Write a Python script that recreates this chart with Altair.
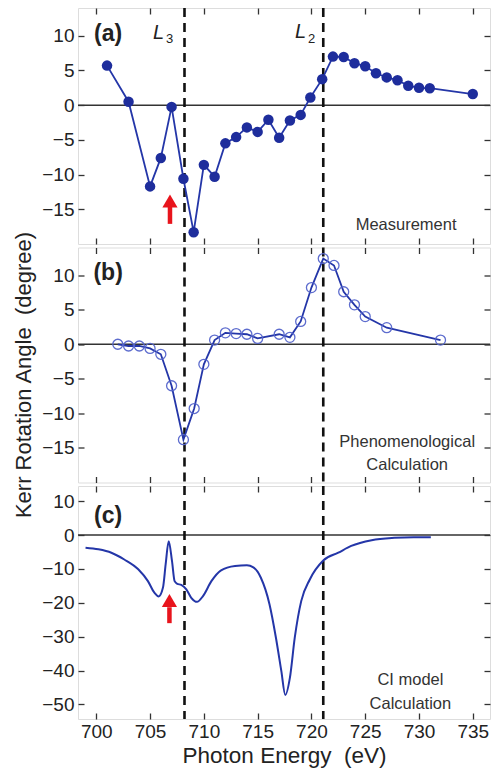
import altair as alt
import pandas as pd

# ---------------- data ----------------
a_energy = [701.0, 703.0, 705.0, 706.0, 707.0, 708.1, 709.05, 710.0, 711.0, 712.0,
            713.0, 714.0, 715.0, 716.0, 717.0, 718.0, 719.0, 719.9, 721.0, 722.0,
            723.0, 724.0, 725.0, 726.0, 727.0, 728.0, 729.0, 730.0, 731.0, 735.0]
a_kerr = [5.7, 0.5, -11.7, -7.6, -0.25, -10.6, -18.3, -8.6, -10.3, -5.5,
          -4.6, -3.2, -3.85, -2.1, -4.7, -2.2, -1.4, 1.1, 3.75, 7.0,
          6.95, 6.05, 5.6, 4.6, 4.0, 3.6, 2.8, 2.5, 2.45, 1.6]

b_energy = [702, 703, 704, 705, 706, 707, 708.1, 709.1, 710, 711,
            712, 713, 714, 715, 717, 718, 719, 720, 721.1, 722.1,
            723, 724, 725, 727, 732]
b_kerr = [0, -0.25, -0.25, -0.6, -1.45, -6.0, -13.8, -9.3, -2.9, 0.6,
          1.65, 1.55, 1.45, 0.85, 1.45, 1.0, 3.3, 8.2, 12.4, 11.4,
          7.6, 5.7, 4.0, 2.4, 0.6]

c_energy = [699.0, 700.2, 701.4, 702.6, 703.9, 704.8, 705.4, 705.8, 706.2, 706.45,
            706.73, 707.04, 707.28, 707.53, 707.9, 708.37, 708.83, 709.36, 709.92, 710.7,
            711.6, 712.9, 714.0, 714.6, 715.3, 716.1, 716.7, 717.2, 717.57, 718.0,
            718.45, 719.05, 719.85, 721.1, 722.5, 723.7, 725.6, 727.7, 729.5, 731.1]
c_kerr = [-3.7, -4.2, -5.2, -7.2, -10.1, -13.6, -17.0, -18.1, -15.5, -8.6,
          -1.8, -7.7, -13.6, -14.4, -14.7, -16.0, -18.5, -19.7, -18.0, -13.6,
          -10.4, -9.1, -8.9, -9.5, -12.6, -20.4, -30.3, -40.1, -47.2, -42.1,
          -30.3, -19.5, -13.1, -7.5, -5.2, -3.2, -1.5, -0.8, -0.6, -0.6]

edge_energies = [708.2, 721.1]          # L3, L2 edges (dashed lines)
x_ticks = [700, 705, 710, 715, 720, 725, 730, 735]
ab_ticks = [-15, -10, -5, 0, 5, 10]
c_ticks = [-50, -40, -30, -20, -10, 0, 10]
x_domain = [698.3, 736.6]
ab_domain = [-20, 14]
c_domain = [-54.3, 14.5]

# annotations (data coordinates)
panel_letters = ["(a)", "(b)", "(c)"]
letter_pos = [(701.1, 9.3), (701.1, 9.3), (701.1, 3.6)]
edge_L = [(705.27, 9.6), (718.47, 9.7)]
edge_sub = [("3", 706.48, 9.0), ("2", 719.68, 9.0)]
a_note = [("Measurement", 728.8, -18.0)]
b_note = [("Phenomenological", 728.9, -14.8), ("Calculation", 728.9, -18.2)]
c_note = [("CI model", 729.2, -44.3), ("Calculation", 729.2, -51.2)]
arrow_a = dict(x=706.85, head=-13.8, top=-14.6, base=-17.1)
arrow_c = dict(x=706.8, head=-19.3, top=-21.3, base=-26.0)

FONT = "Liberation Sans"
BLUE = "#2436a8"
DOT = "#1e2d9c"
TXT = "#222222"
NB = "\u00a0"

xs = alt.Scale(domain=x_domain, nice=False, zero=False)


def xaxis_bottom(labels, title):
    kw = dict(orient="bottom", values=x_ticks, labels=labels, offset=-6, tickSize=6,
              tickColor="#333", tickWidth=1.3, domain=False, grid=False,
              labelFont=FONT, labelFontSize=19, labelColor=TXT, labelPadding=3,
              labelFlush=False)
    if title:
        kw.update(title=title, titleFont=FONT, titleFontSize=22.5, titleFontWeight="normal",
                  titleColor=TXT, titlePadding=3)
    else:
        kw.update(title=None)
    return alt.Axis(**kw)


def xaxis_top():
    return alt.Axis(orient="top", values=x_ticks, labels=False, offset=-6, tickSize=6,
                    tickColor="#333", tickWidth=1.3, domain=False, grid=False, title=None)


def yaxis_left(ticks, title):
    kw = dict(orient="left", values=ticks, offset=-6, tickSize=6, tickColor="#333",
              tickWidth=1.3, domain=False, grid=False, labelFont=FONT, labelFontSize=19,
              labelColor=TXT, labelPadding=4, labelFlush=False)
    if title:
        kw.update(title=title, titleFont=FONT, titleFontSize=22, titleFontWeight="normal",
                  titleColor=TXT, titleX=-61, titleY=127, titleAngle=-90,
                  titleAlign="center", titleBaseline="middle")
    else:
        kw.update(title=None)
    return alt.Axis(**kw)


def yaxis_right(ticks):
    return alt.Axis(orient="right", values=ticks, labels=False, offset=-6, tickSize=6,
                    tickColor="#333", tickWidth=1.3, domain=False, grid=False, title=None)


def panel(energy, kerr, ydomain, yticks, kind, letter_i, notes, arrow, xlabels, xtitle, ytitle, height):
    df = pd.DataFrame({"energy": energy, "kerr": kerr})
    ys = alt.Scale(domain=ydomain, nice=False, zero=False)
    base = alt.Chart(df)
    layers = []
    # zero line
    layers.append(alt.Chart(pd.DataFrame({"z": [0]})).mark_rule(color="#333", strokeWidth=1.5)
                  .encode(y=alt.Y("z:Q", scale=ys, axis=None)))
    # dashed edges
    layers.append(alt.Chart(pd.DataFrame({"e": edge_energies})).mark_rule(
        color="#111", strokeWidth=2.6, strokeDash=[9, 6])
        .encode(x=alt.X("e:Q", scale=xs, axis=None)))
    # main line
    interp = "monotone" if kind == "curve" else "linear"
    layers.append(base.mark_line(color=BLUE, strokeWidth=2 if kind == "curve" else 1.8,
                                 interpolate=interp).encode(
        x=alt.X("energy:Q", scale=xs, axis=xaxis_bottom(xlabels, xtitle)),
        y=alt.Y("kerr:Q", scale=ys, axis=yaxis_left(yticks, ytitle))))
    # second axes (top / right) + markers
    if kind == "filled":
        pts = base.mark_point(filled=True, color=DOT, size=110, opacity=1)
    elif kind == "open":
        pts = base.mark_point(filled=False, color="#5565cc", size=100, strokeWidth=1.3, opacity=0.95)
    else:
        pts = base.mark_point(opacity=0, size=1)
    layers.append(pts.encode(
        x=alt.X("energy:Q", scale=xs, axis=xaxis_top()),
        y=alt.Y("kerr:Q", scale=ys, axis=yaxis_right(yticks))))
    # panel letter
    lx, ly = letter_pos[letter_i]
    layers.append(alt.Chart(pd.DataFrame({"x": [lx], "y": [ly], "t": [panel_letters[letter_i]]}))
                  .mark_text(font=FONT, fontSize=23, fontWeight="bold", color=TXT,
                             align="center", baseline="alphabetic")
                  .encode(x=alt.X("x:Q", scale=xs, axis=None), y=alt.Y("y:Q", scale=ys, axis=None),
                          text="t:N"))
    # notes
    ndf = pd.DataFrame({"t": [n[0] for n in notes], "x": [n[1] for n in notes],
                        "y": [n[2] for n in notes]})
    layers.append(alt.Chart(ndf).mark_text(font=FONT, fontSize=16.5, color="#333",
                                           align="center", baseline="alphabetic")
                  .encode(x=alt.X("x:Q", scale=xs, axis=None), y=alt.Y("y:Q", scale=ys, axis=None),
                          text="t:N"))
    # edge labels (only panel a)
    if letter_i == 0:
        ldf = pd.DataFrame({"x": [p[0] for p in edge_L], "y": [p[1] for p in edge_L], "t": ["L", "L"]})
        layers.append(alt.Chart(ldf).mark_text(font=FONT, fontSize=20, fontStyle="italic", color=TXT,
                                               align="left", baseline="alphabetic")
                      .encode(x=alt.X("x:Q", scale=xs, axis=None), y=alt.Y("y:Q", scale=ys, axis=None),
                              text="t:N"))
        sdf = pd.DataFrame({"t": [s[0] for s in edge_sub], "x": [s[1] for s in edge_sub],
                            "y": [s[2] for s in edge_sub]})
        layers.append(alt.Chart(sdf).mark_text(font=FONT, fontSize=13, color=TXT,
                                               align="left", baseline="alphabetic")
                      .encode(x=alt.X("x:Q", scale=xs, axis=None), y=alt.Y("y:Q", scale=ys, axis=None),
                              text="t:N"))
    # red arrow
    if arrow is not None:
        adf = pd.DataFrame({"x": [arrow["x"]], "y1": [arrow["top"]], "y2": [arrow["base"]],
                            "h": [arrow["head"]]})
        layers.append(alt.Chart(adf).mark_rule(color="#e8141c", strokeWidth=4.5)
                      .encode(x=alt.X("x:Q", scale=xs, axis=None), y=alt.Y("y1:Q", scale=ys, axis=None),
                              y2="y2:Q"))
        layers.append(alt.Chart(adf).mark_point(shape="triangle-up", filled=True, color="#e8141c",
                                                size=230, opacity=1)
                      .encode(x=alt.X("x:Q", scale=xs, axis=None), y=alt.Y("h:Q", scale=ys, axis=None)))
    return alt.layer(*layers).properties(width=412, height=height)


pa = panel(a_energy, a_kerr, ab_domain, ab_ticks, "filled", 0, a_note, arrow_a, False, None, None, 236)
pb = panel(b_energy, b_kerr, ab_domain, ab_ticks, "open", 1, b_note, None, False, None,
           "Kerr Rotation Angle " + NB + "(degree)", 235)
pc = panel(c_energy, c_kerr, c_domain, c_ticks, "curve", 2, c_note, arrow_c, True,
           "Photon Energy " + NB + "(eV)", None, 233)

chart = (alt.vconcat(pa, pb, pc, spacing=3.5, bounds="flush")
         .configure_view(stroke="#333", strokeWidth=1.5)
         .configure(padding={"left": 11, "top": 6, "right": 2, "bottom": 2}, background="white"))

chart.save("out.html", embed_options={"renderer": "svg", "actions": False})
